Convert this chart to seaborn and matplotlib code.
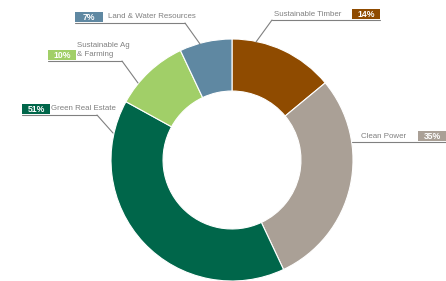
import matplotlib.pyplot as plt
import seaborn as sns

sns.set_style('white')
plt.rcParams['font.family'] = ['Liberation Sans', 'DejaVu Sans']

# wedge sizes as drawn, and the percentage labels as printed
categories = ['Sustainable Timber', 'Clean Power', 'Green Real Estate',
              'Sustainable Ag\n& Farming', 'Land & Water Resources']
wedge_sizes = [14, 29, 40, 10, 7]
pct_labels = ['14%', '35%', '51%', '10%', '7%']
colors = sns.color_palette(['#8f4b00', '#aaa096', '#00664a', '#a1cf68', '#5f88a2'])

fig = plt.figure(figsize=(4.46, 2.81), dpi=100)

ax = fig.add_axes([111 / 446, 0.0, 242 / 446, 242 / 281])
ax.pie(wedge_sizes, colors=colors, startangle=90, counterclock=False,
       wedgeprops=dict(width=0.43, edgecolor='white', linewidth=0.8))
ax.set_xlim(-1, 1)
ax.set_ylim(-1, 1)
ax.set_aspect('equal')
ax.axis('off')

# overlay in pixel units for the callouts
ov = fig.add_axes([0, 0, 1, 1], facecolor='none')
ov.set_xlim(0, 446)
ov.set_ylim(281, 0)
ov.axis('off')

grey = '#808080'
line_kw = dict(color=grey, lw=0.8)
txt_kw = dict(color=grey, fontsize=5.7, va='center')
box_kw = dict(color='white', fontsize=6.2, fontweight='bold', va='center', ha='center')

callouts = [
    dict(bx=352, by=14, tx=274, ux=(272, 380), uy=20, lead=(256, 42)),
    dict(bx=418, by=136, tx=361, ux=(352, 446), uy=142, lead=None),
    dict(bx=22, by=109, tx=51, ux=(22, 97), uy=115, lead=(113, 133)),
    dict(bx=48, by=55, tx=77, ux=(48, 122), uy=61, lead=(138, 83)),
    dict(bx=75, by=17, tx=108, ux=(75, 185), uy=23, lead=(200, 44)),
]

for cat, pct, col, c in zip(categories, pct_labels, colors, callouts):
    ov.add_patch(plt.Rectangle((c['bx'], c['by'] - 5), 28, 10, color=col, lw=0))
    ov.text(c['bx'] + 14, c['by'] + 0.5, pct, **box_kw)
    if '\n' in cat:
        ov.text(c['tx'], c['by'] - 5, cat, linespacing=1.5, **txt_kw)
    else:
        ov.text(c['tx'], c['by'], cat, **txt_kw)
    x0, x1 = c['ux']
    ov.plot([x0, x1], [c['uy'], c['uy']], **line_kw)
    if c['lead'] is not None:
        start = x1 if c['lead'][0] > x1 else x0
        ov.plot([start, c['lead'][0]], [c['uy'], c['lead'][1]], **line_kw)

fig.savefig('out.png', dpi=100)
